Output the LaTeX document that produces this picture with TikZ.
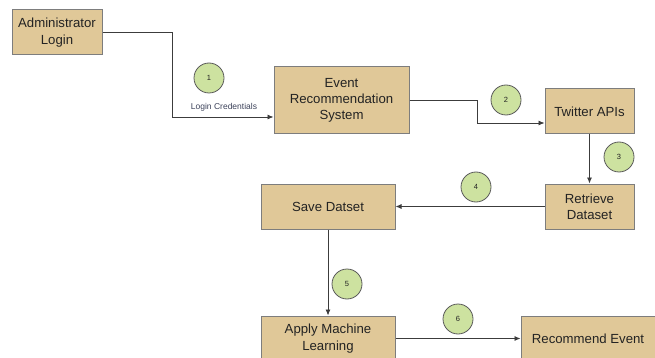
\documentclass[tikz,border=0pt]{standalone}
\usepackage{fontspec}
\setmainfont{Liberation Sans}
\usetikzlibrary{arrows.meta}
\definecolor{boxtan}{RGB}{224,200,152}
\definecolor{boxedge}{RGB}{125,125,125}
\definecolor{badgegreen}{RGB}{205,226,160}
\definecolor{badgeedge}{RGB}{90,90,90}
\definecolor{textgray}{RGB}{35,35,35}
\definecolor{linegray}{RGB}{60,60,60}
\definecolor{labelslate}{RGB}{60,66,90}

\begin{document}
\begin{tikzpicture}[x=1pt,y=-1pt,
    block/.style={draw=boxedge, line width=1pt, fill=boxtan, inner sep=0pt,
      align=center, text=textgray, font=\fontsize{13.2}{16.2}\selectfont},
    badge/.style={circle, draw=badgeedge, line width=0.8pt, fill=badgegreen,
      minimum size=30pt, inner sep=0pt, text=textgray, font=\fontsize{7.5}{8}\selectfont},
    flow/.style={draw=linegray, line width=0.8pt, -{Latex[length=6pt,width=5pt]}}]
  \clip (0,0) rectangle (655,358);

  % boxes
  \node[block, minimum width=90pt, minimum height=45pt] (admin) at (57,32.5) {Administrator\\Login};
  \node[block, minimum width=135pt, minimum height=67pt] (event) at (341.5,100.5) {Event\\Recommendation\\System};
  \node[block, minimum width=89pt, minimum height=45pt] (twitter) at (589.5,111.5) {Twitter APIs};
  \node[block, minimum width=89pt, minimum height=45pt] (retrieve) at (589.5,206.5) {Retrieve\\Dataset};
  \node[block, minimum width=134pt, minimum height=45pt] (save) at (328,206.5) {Save Datset};
  \node[block, minimum width=134pt, minimum height=45pt] (apply) at (328,338.5) {Apply Machine\\Learning};
  \node[block, minimum width=134pt, minimum height=45pt] (recommend) at (588,338.5) {Recommend Event};

  % numbered steps
  \foreach \n/\x/\y in {1/209/78, 2/506/100, 3/619/157, 4/476/187, 5/347/284, 6/458/319}
    \node[badge] (s\n) at (\x,\y) {\n};

  \node[text=labelslate, font=\fontsize{8.5}{10}\selectfont] (cred) at (224,107.5) {Login Credentials};

  % connectors
  \draw[flow] (admin.east) -- ++(70,0) |- ([yshift=-16.5pt]event.west);
  \draw[flow] (event.east) -- ++(68,0) |- ([yshift=-11.5pt]twitter.west);
  \draw[flow] (twitter.south) -- (retrieve.north);
  \draw[flow] (retrieve.west) -- (save.east);
  \draw[flow] (save.south) -- (apply.north);
  \draw[flow] (apply.east) -- (recommend.west);
\end{tikzpicture}
\end{document}
